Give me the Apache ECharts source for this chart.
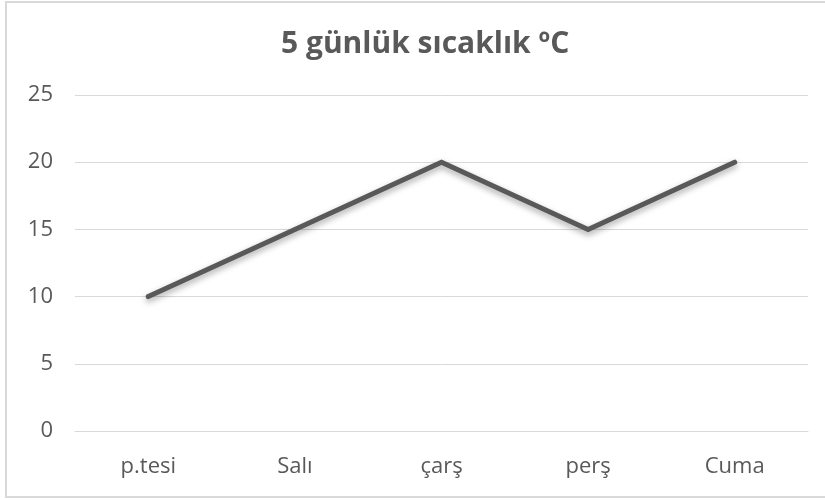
<!DOCTYPE html>
<html>
<head>
<meta charset="utf-8">
<script src="https://cdn.jsdelivr.net/npm/echarts@6/dist/echarts.min.js"></script>
<style>
html,body{margin:0;padding:0;background:#fff;}
#frame{position:absolute;left:5px;top:1px;width:830px;height:497px;border:2px solid #d9d9d9;box-sizing:border-box;}
#chart{position:absolute;left:0;top:0;width:825px;height:500px;}
</style>
</head>
<body>
<div id="frame"></div>
<div id="chart"></div>
<script>
const titleText = '5 günlük sıcaklık ºC';
const categories = ['p.tesi', 'Salı', 'çarş', 'perş', 'Cuma'];
const temps = [10, 15, 20, 15, 20];
const yTicks = { min: 0, max: 25, interval: 5 };

const chart = echarts.init(document.getElementById('chart'), null, { renderer: 'canvas' });
chart.setOption({
  animation: false,
  backgroundColor: 'transparent',
  title: {
    text: titleText,
    left: 276,
    top: 24,
    textStyle: { fontFamily: 'Open Sans', fontWeight: 'bold', fontSize: 30, color: '#595959' }
  },
  grid: { left: 75, right: 17, top: 95, bottom: 69, containLabel: false },
  xAxis: {
    type: 'category',
    data: categories,
    boundaryGap: true,
    axisLine: { show: true, lineStyle: { color: '#d9d9d9', width: 1 } },
    axisTick: { show: false },
    axisLabel: { fontFamily: 'Open Sans', fontSize: 22, color: '#595959', margin: 25 },
    splitLine: { show: false }
  },
  yAxis: {
    type: 'value',
    min: yTicks.min,
    max: yTicks.max,
    interval: yTicks.interval,
    axisLine: { show: false },
    axisTick: { show: false },
    axisLabel: { fontFamily: 'Open Sans', fontSize: 22, color: '#595959', margin: 22 },
    splitLine: { lineStyle: { color: '#d9d9d9', width: 1 } }
  },
  series: [{
    type: 'line',
    data: temps,
    symbol: 'none',
    lineStyle: {
      color: '#595959', width: 5, cap: 'round', join: 'miter',
      shadowColor: 'rgba(0,0,0,0.35)', shadowBlur: 6, shadowOffsetY: 3
    }
  }]
});
</script>
</body>
</html>
